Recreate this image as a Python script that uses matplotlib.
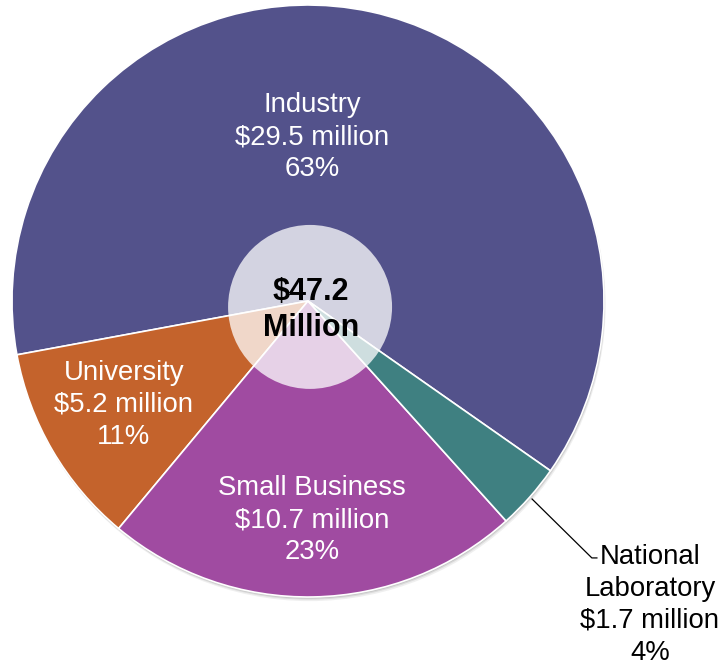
import matplotlib.pyplot as plt
from matplotlib.patches import Circle

plt.rcParams['font.family'] = ['Liberation Sans', 'DejaVu Sans']

# Funding by performer type ($ million)
performers = ['Industry', 'University', 'Small Business', 'National\nLaboratory']
funding = [29.5, 5.2, 10.7, 1.7]
percents = ['63%', '11%', '23%', '4%']
total_label = '$47.2\nMillion'
colors = ['#53528B', '#C4632C', '#A04BA1', '#3F8081']

fig = plt.figure(figsize=(7.26, 6.66), dpi=100)
ax = fig.add_axes([0, 0, 1, 1])

# soft drop shadow behind the pie
for off, a in [(0.014, 0.12), (0.009, 0.18), (0.005, 0.25)]:
    ax.add_patch(Circle((off * 0.4, -off), 1.0, color='#808080', alpha=a, lw=0, zorder=0))

wedges, _ = ax.pie(funding, colors=colors, startangle=325, counterclock=True,
                   radius=1.0, center=(0, 0),
                   wedgeprops=dict(edgecolor='white', linewidth=1.2, zorder=1))

# translucent hub in the middle
ax.add_patch(Circle((0.007, -0.02), 0.277, facecolor='white', alpha=0.75, lw=0, zorder=3))
ax.text(0.01, -0.03, total_label, ha='center', va='center', fontsize=22,
        fontweight='bold', color='black', linespacing=1.25, zorder=4)

label_pos = [(0.014, 0.554), (-0.622, -0.351), (0.014, -0.74), (1.155, -1.026)]
for i, (name, val, pct) in enumerate(zip(performers, funding, percents)):
    txt = f'{name}\n${val} million\n{pct}'
    col = 'white' if i < 3 else 'black'
    ax.text(label_pos[i][0], label_pos[i][1], txt, ha='center', va='center',
            fontsize=19.8, color=col, linespacing=1.3, zorder=4)

# leader line for the small slice
ax.plot([0.757, 0.959, 0.976], [-0.669, -0.868, -0.868], color='black', lw=0.9, zorder=4)

ax.set_xlim(-308 / 296, (726 - 308) / 296)
ax.set_ylim(-(666 - 301) / 296, 301 / 296)
ax.set_aspect('equal')
ax.axis('off')

fig.savefig('out.png', dpi=100)
